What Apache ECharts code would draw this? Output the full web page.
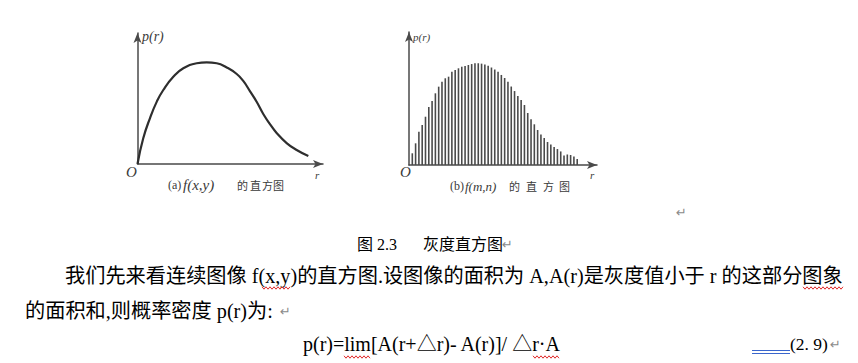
<!DOCTYPE html>
<html><head><meta charset="utf-8">
<script src="https://cdn.jsdelivr.net/npm/echarts@6/dist/echarts.min.js"></script>
<style>html,body{margin:0;padding:0;background:#fff}#c{width:858px;height:363px}</style>
</head><body><div id="c"></div>
<script>
// Fig (a): continuous grey-level density p(r) versus r
const curveR = [0, 3.1, 6.7, 10.4, 13.9, 19.3, 24.7, 31.9, 37.3, 42.7, 48.1, 53.5, 57.0, 60.6, 64.3, 67.8, 71.4, 75.0, 80.4, 85.8, 92.1];
const curveP = [0, 19.6, 34.9, 47.6, 56.5, 66.6, 73.1, 76.9, 77.6, 76.9, 73.7, 68.7, 63.4, 55.7, 47.3, 38.2, 30.5, 23.7, 16.0, 10.7, 6.1];
// Fig (b): discrete histogram, one value per grey-level bin
const binValues = [8.8, 16.3, 25, 30, 36.3, 43.6, 48.1, 53.9, 58.9, 62.6,
  65.2, 66.4, 70.2, 71.4, 72.7, 73.9, 74.4, 75.2, 75.9, 76.5,
  76.5, 76.2, 75.6, 74.7, 73.3, 71.8, 70.2, 67.7, 65.4, 62.6,
  59, 55.6, 51.9, 48.9, 45.1, 39.1, 34.4, 30.6, 26.3, 22.9,
  20.3, 17.3, 15.4, 13.5, 12, 10.2, 7.1, 7.9, 7.5, 6.4, 4.5];
// Text of the page
const captionA = ['(a)', 'f(x,y)', '的', '直', '方', '图'];
const captionB = ['(b)', 'f(m,n)', '的', '直', '方', '图'];
const axisNames = ['p(r)', 'O', 'r'];
const figCaption = ['图 2.3', '灰度直方图'];
const line1 = '我们先来看连续图像 f(x,y)的直方图.设图像的面积为 A,A(r)是灰度值小于 r 的这部分图象';
const line2 = '的面积和,则概率密度 p(r)为:';
const formula = 'p(r)=lim[A(r+△r)- A(r)]/ △r·A';
const eqNo = '(2. 9)';

const chart = echarts.init(document.getElementById('c'), null, {renderer: 'svg', width: 858, height: 363});
const serif = "'Liberation Serif','Times New Roman',serif";
const doc = "'Liberation Serif','Noto Sans CJK SC',serif";
const cjk = "'Noto Sans CJK SC',sans-serif";
function T(x, y, text, size, extra) {
  return {type: 'text', x: x, y: y, silent: true,
    style: Object.assign({text: text, fontSize: size, fontFamily: doc, fill: '#000', textVerticalAlign: 'middle'}, extra || {})};
}
function wave(x0, x1, y) {
  const pts = []; let up = true;
  for (let x = x0; x <= x1; x += 2) { pts.push([x, up ? y - 1.2 : y + 1.2]); up = !up; }
  return {type: 'polyline', silent: true, shape: {points: pts}, style: {stroke: '#e02828', lineWidth: 1, fill: null}};
}
const ret = (x, y) => T(x, y, '↵', 13, {fill: '#8a8a8a', fontFamily: "'DejaVu Sans',sans-serif"});
const scan = '#3a3a3a';
const it = {fontStyle: 'italic', fontFamily: serif, fill: scan};
const cj = {fill: scan, fontFamily: cjk};

function axisCommon(max) {
  return {type: 'value', min: 0, max: max,
    axisLine: {show: true, symbol: ['none', 'arrow'], symbolSize: [6, 10], lineStyle: {color: '#4a4a4a', width: 1.5}},
    axisTick: {show: false}, axisLabel: {show: false}, splitLine: {show: false}};
}

chart.setOption({
  animation: false,
  backgroundColor: '#fff',
  grid: [
    {left: 137.5, top: 33, width: 185.5, height: 131},
    {left: 409, top: 32, width: 188, height: 133}
  ],
  xAxis: [Object.assign({gridIndex: 0}, axisCommon(100)), Object.assign({gridIndex: 1}, axisCommon(57))],
  yAxis: [Object.assign({gridIndex: 0}, axisCommon(100)), Object.assign({gridIndex: 1}, axisCommon(100))],
  series: [
    {type: 'line', xAxisIndex: 0, yAxisIndex: 0, smooth: 0.5, symbol: 'none',
      lineStyle: {color: '#2e2e2e', width: 2.2},
      data: curveR.map((r, i) => [r, curveP[i]])},
    {type: 'bar', xAxisIndex: 1, yAxisIndex: 1, barWidth: 1.6,
      itemStyle: {color: '#4a4a4a'},
      data: binValues.map((v, i) => [i + 1, v])}
  ],
  graphic: [
    // chart (a) labels
    T(142, 36, axisNames[0], 14, it),
    T(126, 172, axisNames[1], 15, it),
    T(315, 175, axisNames[2], 11, it),
    T(168, 185, captionA[0], 12, {fill: scan, fontFamily: serif}),
    T(183, 185, captionA[1], 15, it),
    T(237, 185, captionA[2], 11, cj),
    T(250, 185, captionA[3], 11, cj),
    T(262, 185, captionA[4], 11, cj),
    T(273, 185, captionA[5], 11, cj),
    // chart (b) labels
    T(413, 37, axisNames[0], 11, it),
    T(400, 172, axisNames[1], 15, it),
    T(590, 175, axisNames[2], 11, it),
    T(450, 186, captionB[0], 12, {fill: scan, fontFamily: serif}),
    T(465, 186, captionB[1], 13, it),
    T(509, 186, captionB[2], 11, cj),
    T(526, 186, captionB[3], 11, cj),
    T(543, 186, captionB[4], 11, cj),
    T(559, 186, captionB[5], 11, cj),
    ret(676, 212),
    // figure caption
    T(357, 244, figCaption[0], 16),
    T(423, 244, figCaption[1], 16),
    ret(502, 244),
    // paragraph
    T(65, 276, line1, 20.2),
    T(25, 311, line2, 20.2),
    ret(280, 311),
    T(303, 344, formula, 20),
    T(790, 344, eqNo, 17.5, {fontFamily: serif}),
    ret(830, 344),
    // spell-check underlines
    wave(262, 290, 288),
    wave(803, 843, 288),
    wave(344, 371, 357),
    wave(533, 560, 357),
    {type: 'line', silent: true, shape: {x1: 752, y1: 350.5, x2: 790, y2: 350.5}, style: {stroke: '#3a66cc', lineWidth: 1}},
    {type: 'line', silent: true, shape: {x1: 752, y1: 353.5, x2: 790, y2: 353.5}, style: {stroke: '#3a66cc', lineWidth: 1}}
  ]
});
</script>
</body></html>
